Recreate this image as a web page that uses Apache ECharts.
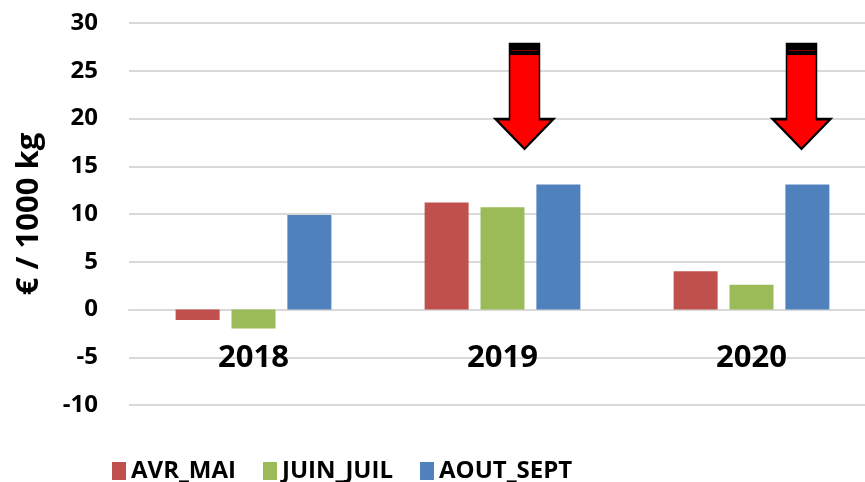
<!DOCTYPE html>
<html>
<head>
<meta charset="utf-8">
<script src="https://cdn.jsdelivr.net/npm/echarts@6/dist/echarts.min.js"></script>
<style>
  html, body { margin: 0; padding: 0; background: #fff; }
  #chart { width: 865px; height: 482px; }
</style>
</head>
<body>
<div id="chart"></div>
<script>
var years = ['2018', '2019', '2020'];
var avrMai = [-1.1, 11.2, 4.0];
var juinJuil = [-2.0, 10.7, 2.6];
var aoutSept = [9.9, 13.1, 13.1];

// fleches rouges (annotations)
var arrowYears = ['2019', '2020'];
var arrowMid = [22.3, 22.3];
var arrowShift = [22, 50];

var font = '"Open Sans", "DejaVu Sans", sans-serif';
var arrowPath = 'path://M14,0 L44,0 L44,75 L58,75 L29,105 L0,75 L14,75 Z';

function arrowItems(dy) {
  return arrowYears.map(function (y, i) {
    return { value: [y, arrowMid[i]], symbolOffset: [arrowShift[i], dy] };
  });
}

var option = {
  animation: false,
  grid: { left: 129, width: 747, top: 23, height: 382, outerBoundsMode: 'none', containLabel: false },
  legend: {
    data: ['AVR_MAI', 'JUIN_JUIL', 'AOUT_SEPT'],
    left: 112,
    top: 459,
    padding: 0,
    itemGap: 27,
    itemWidth: 14,
    itemHeight: 18,
    icon: 'rect',
    textStyle: { fontFamily: font, fontSize: 24, fontWeight: 'bold', color: '#000' }
  },
  xAxis: {
    type: 'category',
    data: years,
    axisTick: { show: false },
    axisLine: { onZero: true, lineStyle: { color: '#d9d9d9', width: 2 } },
    axisLabel: { margin: -62, fontFamily: font, fontSize: 31, fontWeight: 'bold', color: '#000' }
  },
  yAxis: {
    type: 'value',
    min: -10,
    max: 30,
    interval: 5,
    name: '€ / 1000 kg',
    nameLocation: 'middle',
    nameGap: 84,
    nameTextStyle: { fontFamily: font, fontSize: 31, fontWeight: 'bold', color: '#000' },
    axisLine: { show: false },
    axisTick: { show: false },
    axisLabel: { margin: 31, fontFamily: font, fontSize: 24, fontWeight: 'bold', color: '#000' },
    splitLine: { lineStyle: { color: '#d9d9d9', width: 2 } }
  },
  series: [
    { name: 'AVR_MAI', type: 'bar', data: avrMai, barWidth: 44, barGap: '27%', itemStyle: { color: '#c0504d' } },
    { name: 'JUIN_JUIL', type: 'bar', data: juinJuil, barWidth: 44, barGap: '27%', itemStyle: { color: '#9bbb59' } },
    { name: 'AOUT_SEPT', type: 'bar', data: aoutSept, barWidth: 44, barGap: '27%', itemStyle: { color: '#4f81bd' } },
    {
      name: 'fleche', type: 'scatter', data: arrowItems(0), symbol: arrowPath, symbolSize: [58, 105],
      itemStyle: { color: '#ff0000', borderColor: '#000', borderWidth: 2, opacity: 1 }, z: 5
    },
    {
      name: 'bande', type: 'scatter', data: arrowItems(-47), symbol: 'rect', symbolSize: [31, 11],
      itemStyle: { color: '#000', opacity: 1 }, z: 6
    },
    {
      name: 'trait', type: 'scatter', data: arrowItems(-46), symbol: 'rect', symbolSize: [26, 1],
      itemStyle: { color: '#8b0000', opacity: 1 }, z: 7
    }
  ]
};

var myChart = echarts.init(document.getElementById('chart'));
myChart.setOption(option);
</script>
</body>
</html>
